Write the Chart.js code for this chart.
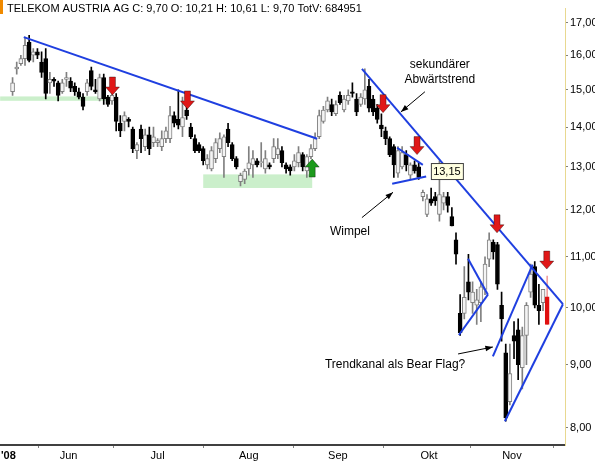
<!DOCTYPE html>
<html>
<head>
<meta charset="utf-8">
<script src="https://cdn.jsdelivr.net/npm/chart.js@4/dist/chart.umd.min.js"></script>
<style>
  body { margin: 0; background: #fff; }
  #wrap { width: 595px; height: 461px; }
</style>
</head>
<body>
<div id="wrap"><canvas id="chart" width="595" height="461"></canvas></div>
<script>
// Tagesdaten (Index = Handelstag)
var opens  = [14.95,15.6,15.75,15.9,16.4,16.0,16.1,15.8,15.9,15.2,15.3,15.2,14.95,15.3,15.25,15.1,14.95,14.8,14.95,15.55,
              15.0,14.75,15.35,14.8,14.7,14.8,14.1,14.15,14.2,13.95,13.4,13.95,13.5,13.8,13.6,13.6,13.5,13.7,13.7,14.3,
              14.2,14.0,14.45,14.0,13.7,13.55,13.45,13.05,12.95,13.2,13.45,13.25,13.95,13.55,13.2,12.65,12.7,12.95,13.05,13.15,
              13.1,12.95,13.05,13.2,13.3,13.4,13.05,13.0,13.0,13.1,13.3,12.9,13.25,13.45,13.75,14.15,14.45,14.6,14.35,14.85,
              14.45,14.7,14.95,14.75,14.6,14.75,15.1,14.75,14.5,14.05,13.9,13.7,13.5,12.85,13.0,13.3,12.8,13.05,13.0,12.3,
              11.9,12.25,12.3,11.9,12.15,12.3,11.85,11.35,9.9,9.9,10.5,10.1,10.05,10.1,10.35,10.95,11.3,11.25,10.05,9.2,
              8.4,9.5,9.6,8.95,9.5,10.3,10.8,10.05,10.1,10.21];
var highs  = [15.35,15.8,16.0,16.55,16.6,16.2,16.2,16.1,16.2,15.5,15.35,15.25,15.3,15.5,15.35,15.2,15.05,14.9,15.3,15.65,
              15.3,15.45,15.45,14.85,14.95,14.9,14.3,14.4,14.25,14.0,13.6,14.05,13.95,14.0,14.0,13.7,13.9,14.0,14.55,14.4,
              15.0,14.8,14.8,14.1,13.8,13.6,13.5,13.3,13.5,13.7,13.85,13.8,14.1,13.6,13.25,12.85,12.95,13.5,13.4,13.2,
              13.6,13.4,13.1,13.7,13.7,13.5,13.1,13.05,13.3,13.5,13.35,13.3,13.55,13.85,14.45,14.55,14.8,14.75,14.7,14.95,
              14.85,15.0,15.2,14.9,14.9,15.6,15.3,14.85,14.6,14.35,14.0,13.75,13.55,13.5,13.5,13.4,13.1,13.15,13.1,12.45,
              12.35,12.5,12.4,13.15,12.4,12.4,12.05,11.5,10.25,10.8,11.05,10.5,10.35,10.5,11.0,11.5,11.35,11.3,10.3,9.35,
              9.35,9.75,9.8,9.65,10.1,10.85,10.9,10.45,10.35,10.61];
var lows   = [14.85,15.45,15.7,15.7,15.8,15.8,15.9,15.35,14.75,14.9,15.1,14.7,14.9,15.1,14.95,14.85,14.75,14.45,14.85,15.0,
              14.9,14.7,14.6,14.55,14.6,13.9,13.75,13.9,14.0,13.35,13.2,13.35,13.4,13.3,13.5,13.5,13.4,13.6,13.6,14.0,
              13.95,13.75,14.2,13.7,13.35,13.35,13.05,12.95,12.9,13.1,13.35,12.75,13.5,13.15,12.95,12.55,12.6,12.8,12.75,13.0,
              13.0,12.85,12.95,13.1,13.2,13.0,12.85,12.8,12.9,13.0,12.9,12.75,13.2,13.4,13.7,14.1,14.4,14.3,14.3,14.6,
              14.4,14.6,14.8,14.3,14.55,14.6,14.4,14.3,14.1,13.75,13.55,13.25,12.75,12.75,12.95,12.9,12.7,12.85,12.7,12.2,
              11.85,12.1,12.1,11.75,12.0,11.95,11.65,10.85,9.5,9.8,10.15,9.9,9.7,9.75,10.25,10.8,10.95,10.35,9.4,8.1,
              8.35,9.1,8.75,8.6,9.0,10.2,10.0,9.7,9.95,9.70];
var closes = [15.2,15.65,15.9,16.3,15.85,16.1,16.0,15.5,14.9,15.3,15.25,14.85,15.2,15.35,15.05,14.95,14.8,14.55,15.2,15.1,
              14.95,15.35,14.75,14.6,14.85,14.15,13.9,14.3,14.15,13.45,13.55,13.7,13.8,13.45,13.75,13.65,13.7,13.9,14.3,14.1,
              14.05,14.25,14.3,13.75,13.4,13.4,13.15,13.2,13.4,13.6,13.7,13.75,13.6,13.2,13.0,12.8,12.9,13.1,13.2,13.05,
              13.1,13.2,13.0,13.5,13.45,13.1,12.95,12.9,13.15,13.35,13.0,13.25,13.45,13.7,14.3,14.45,14.7,14.4,14.6,14.65,
              14.75,14.85,14.9,14.4,14.8,15.0,14.5,14.4,14.2,13.95,13.7,13.3,13.05,13.4,13.35,13.05,13.05,12.9,12.75,12.4,
              12.25,12.15,12.2,12.35,12.3,12.1,11.65,11.05,9.55,10.2,10.3,10.3,10.15,10.4,10.85,11.35,11.1,10.45,9.8,8.15,
              8.85,9.4,9.0,9.5,10.05,10.65,10.05,9.95,10.35,9.70];

var priceTicks = [8, 9, 10, 11, 12, 13, 14, 15, 16, 17];
var monthPos = [-1, 13.5, 35, 57, 78.5, 100.5, 120.5];
var monthLabels = ["'08", "Jun", "Jul", "Aug", "Sep", "Okt", "Nov"];

// Trendlinien [x1, y1, x2, y2] in Index/Kurs
var trendLines = [
  [2.7, 16.55, 73.5, 13.7],
  [84.3, 15.6, 132.8, 10.07],
  [92.8, 13.47, 99.0, 13.05],
  [91.6, 12.6, 99.8, 12.77],
  [109.9, 10.96, 114.7, 10.25],
  [107.7, 9.51, 114.7, 10.25],
  [115.9, 9.14, 125.5, 10.84],
  [118.8, 8.1, 132.8, 10.07]
];
var downArrows = [[24.1, 14.86], [42.2, 14.48], [89.4, 14.38], [97.6, 13.3], [116.9, 11.5], [128.9, 10.75]];
var upArrows = [[72.3, 13.19]];
var zones = [[-3, 14.7, 24.5, 14.82], [46, 12.5, 72.3, 12.82]];

var n = closes.length;
var wickData = [], bodyData = [], bodyFill = [], bodyBorder = [], wickColor = [];
for (var i = 0; i < n; i++) {
  var last = i === n - 1;
  var up = closes[i] >= opens[i];
  wickData.push({x: i, y: [lows[i], highs[i]]});
  var o = opens[i], c = closes[i];
  if (Math.abs(o - c) < 0.02) c = o + 0.03;
  bodyData.push({x: i, y: [o, c]});
  bodyFill.push(last ? "#e01010" : (up ? "#f4f4f4" : "#000000"));
  bodyBorder.push(last ? "#e01010" : (up ? "#808080" : "#000000"));
  wickColor.push(last ? "#f0a0a0" : (up ? "#808080" : "#000000"));
}

var lineSets = trendLines.map(function(t) {
  return {
    type: "line",
    data: [{x: t[0], y: t[1]}, {x: t[2], y: t[3]}],
    borderColor: "#1f3fe0",
    borderWidth: 2,
    pointRadius: 0,
    order: 0
  };
});

function fmt(v) { return v.toFixed(2).replace(".", ","); }

var overlay = {
  id: "overlay",
  beforeDatasetsDraw: function(chart) {
    var ctx = chart.ctx, xs = chart.scales.x, ys = chart.scales.y;
    ctx.save();
    ctx.fillStyle = "rgba(140,220,140,0.45)";
    zones.forEach(function(z) {
      var x1 = xs.getPixelForValue(z[0]), x2 = xs.getPixelForValue(z[2]);
      var y1 = ys.getPixelForValue(z[3]), y2 = ys.getPixelForValue(z[1]);
      ctx.fillRect(x1, y1, x2 - x1, y2 - y1);
    });
    ctx.restore();
  },
  afterDraw: function(chart) {
    var ctx = chart.ctx, xs = chart.scales.x, ys = chart.scales.y;
    function px(a) { return xs.getPixelForValue(a); }
    function py(a) { return ys.getPixelForValue(a); }
    ctx.save();

    // Pfeile
    function arrow(x, y, dir, fill) {
      ctx.beginPath();
      ctx.moveTo(x, y);
      ctx.lineTo(x - 7, y - 8 * dir);
      ctx.lineTo(x - 3, y - 8 * dir);
      ctx.lineTo(x - 3, y - 18 * dir);
      ctx.lineTo(x + 3, y - 18 * dir);
      ctx.lineTo(x + 3, y - 8 * dir);
      ctx.lineTo(x + 7, y - 8 * dir);
      ctx.closePath();
      ctx.fillStyle = fill;
      ctx.fill();
      ctx.strokeStyle = "rgba(0,0,0,0.35)";
      ctx.lineWidth = 1;
      ctx.stroke();
    }
    downArrows.forEach(function(a) { arrow(px(a[0]), py(a[1]), 1, "#e01818"); });
    upArrows.forEach(function(a) { arrow(px(a[0]), py(a[1]), -1, "#1c9a1c"); });

    // Beschriftungen
    ctx.font = "12px 'Liberation Sans', Arial, sans-serif";
    ctx.fillStyle = "#000";
    ctx.textAlign = "center";
    ctx.textBaseline = "middle";
    ctx.fillText("sekundärer", px(103.1), py(15.72));
    ctx.fillText("Abwärtstrend", px(103.1), py(15.29));
    ctx.fillText("Wimpel", px(81.4), py(11.53));
    ctx.fillText("Trendkanal als Bear Flag?", px(92.3), py(9.0));

    function pointer(x1, y1, x2, y2) {
      var a = Math.atan2(y2 - y1, x2 - x1);
      ctx.strokeStyle = "#000";
      ctx.lineWidth = 1;
      ctx.beginPath();
      ctx.moveTo(x1, y1);
      ctx.lineTo(x2, y2);
      ctx.stroke();
      ctx.beginPath();
      ctx.moveTo(x2, y2);
      ctx.lineTo(x2 - 8 * Math.cos(a - 0.35), y2 - 8 * Math.sin(a - 0.35));
      ctx.lineTo(x2 - 8 * Math.cos(a + 0.35), y2 - 8 * Math.sin(a + 0.35));
      ctx.closePath();
      ctx.fillStyle = "#000";
      ctx.fill();
    }
    pointer(px(99.5), py(14.95), px(93.7), py(14.4));
    pointer(px(84.3), py(11.83), px(91.8), py(12.4));
    pointer(px(107.5), py(9.18), px(115.9), py(9.3));

    // Wertmarke 13,15
    var bx = px(104.8), by = py(12.9);
    ctx.fillStyle = "#ffffe0";
    ctx.fillRect(bx - 16, by - 8, 32, 16);
    ctx.strokeStyle = "#404040";
    ctx.strokeRect(bx - 16 + 0.5, by - 8 + 0.5, 32, 16);
    ctx.fillStyle = "#000";
    ctx.font = "11px 'Liberation Sans', Arial, sans-serif";
    ctx.fillText("13,15", bx, by + 1);

    // Titelzeile
    ctx.fillStyle = "#f08a00";
    ctx.fillRect(0, 0, 3, 14);
    ctx.fillStyle = "#000";
    ctx.textAlign = "left";
    ctx.font = "11px 'Liberation Sans', Arial, sans-serif";
    ctx.fillText("TELEKOM AUSTRIA AG C: 9,70 O: 10,21 H: 10,61 L: 9,70 TotV: 684951", 7, 9);
    ctx.restore();
  }
};

var ctx = document.getElementById("chart").getContext("2d");
var chart = new Chart(ctx, {
  type: "bar",
  data: {
    datasets: [{
      data: wickData,
      backgroundColor: wickColor,
      borderWidth: 0,
      barThickness: 1,
      grouped: false,
      order: 2
    }, {
      data: bodyData,
      backgroundColor: bodyFill,
      borderColor: bodyBorder,
      borderWidth: 1,
      borderSkipped: false,
      barThickness: 4,
      grouped: false,
      order: 1
    }].concat(lineSets)
  },
  options: {
    responsive: false,
    animation: false,
    layout: { padding: { top: 4, left: 0, right: 0, bottom: 0 } },
    plugins: { legend: { display: false }, tooltip: { enabled: false } },
    scales: {
      x: {
        type: "linear",
        min: -2.9,
        max: 133.3,
        offset: false,
        afterBuildTicks: function(axis) {
          axis.ticks = monthPos.map(function(v) { return {value: v}; });
        },
        afterFit: function(axis) { axis.height = 16; },
        ticks: {
          autoSkip: false,
          maxRotation: 0,
          padding: 1,
          color: "#000",
          font: function(c) {
            return {family: "'Liberation Sans', Arial, sans-serif", size: 11, weight: c.index === 0 ? "bold" : "normal"};
          },
          callback: function(v, i) { return monthLabels[i]; }
        },
        grid: { drawOnChartArea: false, tickLength: 3, color: "#808080" },
        border: { color: "#404040", width: 2 }
      },
      y: {
        type: "logarithmic",
        position: "right",
        min: 7.75,
        max: 17.45,
        afterBuildTicks: function(axis) {
          axis.ticks = priceTicks.map(function(v) { return {value: v}; });
        },
        afterFit: function(axis) { axis.width = 30; },
        ticks: {
          color: "#000",
          padding: 2,
          font: { family: "'Liberation Sans', Arial, sans-serif", size: 11 },
          callback: function(v) { return fmt(v); }
        },
        grid: { drawOnChartArea: false, tickLength: 3, color: "#808080" },
        border: { color: "#e8d890", width: 1, dash: [2, 2] }
      }
    }
  },
  plugins: [overlay]
});
</script>
</body>
</html>
